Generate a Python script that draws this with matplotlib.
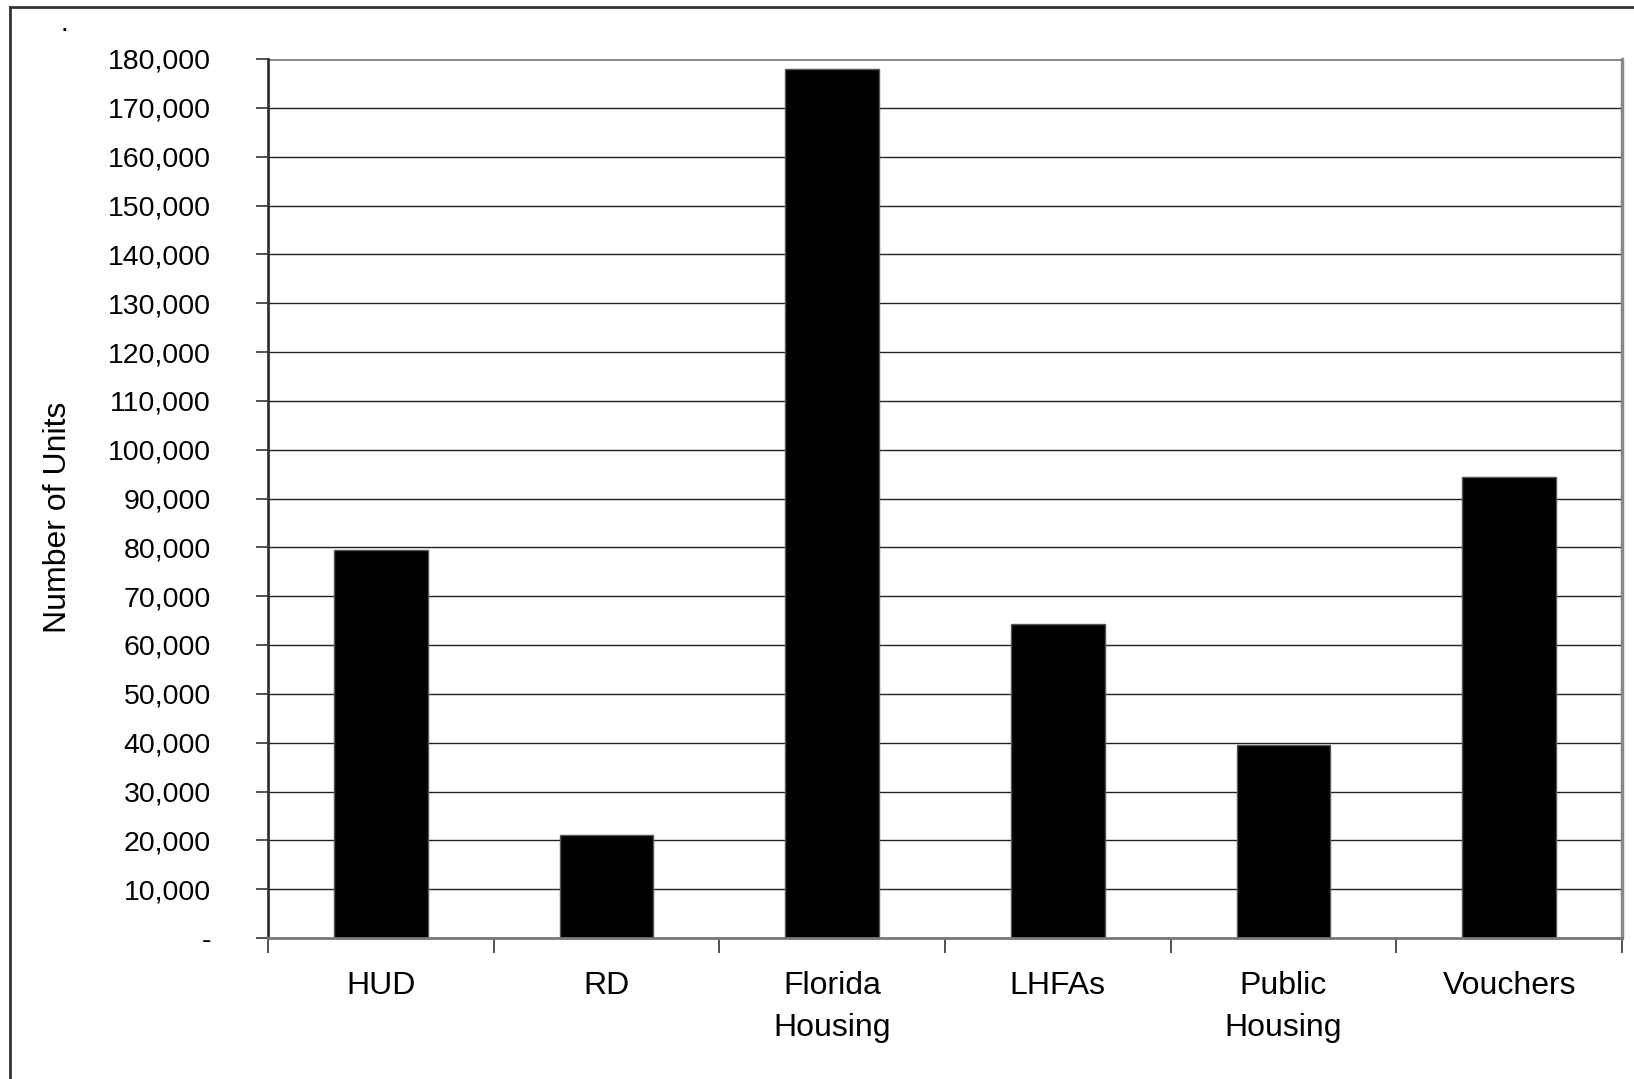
import numpy as np
import matplotlib as mpl
mpl.use('Agg')
import matplotlib.pyplot as plt
from matplotlib.lines import Line2D
from matplotlib.ticker import FuncFormatter, FixedLocator

mpl.rcParams['font.family'] = ['Liberation Sans', 'DejaVu Sans']

categories = ["HUD", "RD", "Florida\nHousing", "LHFAs", "Public\nHousing", "Vouchers"]
units = [79500, 21000, 178000, 64300, 39500, 94500]
y_ticks = list(range(0, 180001, 10000))

fig = plt.figure(figsize=(16.34, 10.79), dpi=100)
ax = fig.add_axes([268/1634, 1-938/1079, (1622-268)/1634, (938-59)/1079])

pts = np.arange(len(categories))
ax.set_axisbelow(True)
for y in y_ticks[1:-1]:
  ax.axhline(y, color="#222222", lw=1.0, zorder=0)
ax.axhline(y_ticks[-1], color="#888888", lw=2.2, zorder=0)
ax.bar(pts, units, width=0.415, color="black", edgecolor="#555555", lw=1, zorder=2)

ax.set_xlim(-0.5, len(categories)-0.5)
ax.set_ylim(0, 180000)
ax.set_yticks(y_ticks)
ax.yaxis.set_major_formatter(FuncFormatter(lambda v, p: "-" if v == 0 else f"{int(v):,}"))
ax.tick_params(axis='y', labelsize=20.5, length=9, width=1.2, color="#333333", pad=32)

ax.set_xticks(pts)
ax.set_xticklabels(categories, fontsize=23, linespacing=1.5)
ax.tick_params(axis='x', which='major', length=0, pad=24)
ax.xaxis.set_minor_locator(FixedLocator(np.arange(-0.5, len(categories), 1.0)))
ax.tick_params(axis='x', which='minor', length=11, width=1.2, color="#333333")

ax.spines["top"].set_visible(False)
ax.spines["right"].set_color("#888888")
ax.spines["right"].set_linewidth(2.5)
ax.spines["left"].set_color("#333333")
ax.spines["left"].set_linewidth(2)
ax.spines["bottom"].set_color("#777777")
ax.spines["bottom"].set_linewidth(2)

fig.text(58/1634, 1-517/1079, "Number of Units", rotation=90, fontsize=23,
         ha="center", va="center")
fig.text(64/1634, 1-24/1079, ".", fontsize=20, ha="center", va="center")

# outer frame (left and top edges visible)
fig.add_artist(Line2D([10/1634, 10/1634], [0, 1-7/1079], color="#333333", lw=2, transform=fig.transFigure))
fig.add_artist(Line2D([10/1634, 1], [1-7/1079, 1-7/1079], color="#333333", lw=2, transform=fig.transFigure))

plt.savefig("out.png", dpi=100)
plt.close(fig)
